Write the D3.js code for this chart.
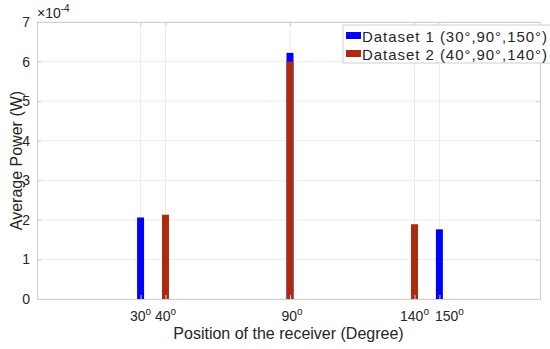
<!DOCTYPE html>
<html>
<head>
<meta charset="utf-8">
<script src="https://cdn.jsdelivr.net/npm/d3@7"></script>
<style>
  body { margin: 0; background: #fff; }
  text { font-family: "Liberation Sans", Arial, Helvetica, sans-serif; }
</style>
</head>
<body>
<div id="chart-area"></div>
<script>
// Data
// ****
const tickPositions = [30, 40, 90, 140, 150]
const tickLabelShift = [0, 0, 2, 0, 10]   // px nudge of the labels, as in the original
const ds1Positions = [30, 90, 150]
const ds1Values = [2.06, 6.22, 1.76]      // x 10^-4 W
const ds2Positions = [40, 90, 140]
const ds2Values = [2.13, 6.0, 1.89]       // x 10^-4 W
const yTicks = [0, 1, 2, 3, 4, 5, 6, 7]
const seriesNames = ["Dataset 1 (30°,90°,150°)", "Dataset 2 (40°,90°,140°)"]
const seriesColors = ["#0000ff", "#ad2a0f"]

// Config
// ******
const W = 550, H = 349
const margin = {top: 22, right: 10, bottom: 50, left: 37}
const width = 540 - margin.left, height = 299 - margin.top
const axisColor = "#cfcfcf", gridColor = "#ececec", textColor = "#262626"
const barWidth = 2.8 // degrees

const svg = d3.select("#chart-area")
  .append("svg")
    .attr("width", W)
    .attr("height", H)

const g = svg.append("g")
  .attr("transform", "translate(" + margin.left + ", " + margin.top + ")")

const x = d3.scaleLinear().domain([-11.6, 190.4]).range([0, width])
const y = d3.scaleLinear().domain([0, 7]).range([height, 0])

// Grid
g.append("g").selectAll("line").data(yTicks).enter()
  .append("line")
  .attr("x1", 0).attr("x2", width)
  .attr("y1", d => y(d)).attr("y2", d => y(d))
  .style("stroke", gridColor)
g.append("g").selectAll("line").data(tickPositions).enter()
  .append("line")
  .attr("x1", d => x(d)).attr("x2", d => x(d))
  .attr("y1", 0).attr("y2", height)
  .style("stroke", gridColor)

// Bars
function drawBars(pos, vals, color) {
  g.append("g").selectAll("rect").data(pos).enter()
    .append("rect")
    .attr("x", d => x(d - barWidth / 2))
    .attr("width", d => x(d + barWidth / 2) - x(d - barWidth / 2))
    .attr("y", (d, i) => y(vals[i]))
    .attr("height", (d, i) => y(0) - y(vals[i]))
    .attr("fill", color)
}
drawBars(ds1Positions, ds1Values, seriesColors[0])
drawBars(ds2Positions, ds2Values, seriesColors[1])

// Axes
const leftAxis = d3.axisLeft(y).tickValues(yTicks).tickSize(-4).tickPadding(7).tickFormat(d3.format("d"))
g.append("g").attr("class", "left axis").call(leftAxis)
g.append("g").attr("class", "right axis")
  .attr("transform", "translate(" + width + ",0)")
  .call(d3.axisRight(y).tickValues(yTicks).tickSize(-4).tickFormat(""))
const bottomAxis = d3.axisBottom(x).tickValues(tickPositions).tickSize(-4).tickFormat("")
g.append("g").attr("class", "bottom axis")
  .attr("transform", "translate(0, " + height + ")")
  .call(bottomAxis)
g.append("g").attr("class", "top axis")
  .call(d3.axisTop(x).tickValues(tickPositions).tickSize(-4).tickFormat(""))

g.selectAll(".axis path").style("stroke", axisColor)
g.selectAll(".axis line").style("stroke", axisColor)
g.selectAll(".left.axis text")
  .style("fill", textColor)
  .attr("font-family", null)
  .attr("font-size", "14px")

// x tick labels with superscript o
const xl = g.append("g").selectAll("text").data(tickPositions).enter()
  .append("text")
  .attr("x", (d, i) => x(d) + tickLabelShift[i])
  .attr("y", height + 22)
  .attr("text-anchor", "middle")
  .attr("font-size", "14px")
  .style("fill", textColor)
xl.append("tspan").text(d => d)
xl.append("tspan").attr("dy", -6).attr("font-size", "10px").text("o")

// Exponent label
const ex = g.append("text")
  .attr("x", 0).attr("y", -4)
  .attr("font-size", "14px")
  .style("fill", textColor)
ex.append("tspan").text("×10")
ex.append("tspan").attr("dy", -6).attr("font-size", "10px").text("-4")

// Axis titles
g.append("text")
  .attr("x", width / 2)
  .attr("y", height + 40)
  .attr("text-anchor", "middle")
  .attr("font-size", "16px")
  .style("fill", textColor)
  .text("Position of the receiver (Degree)")
g.append("text")
  .attr("x", -(height / 2))
  .attr("y", -15)
  .attr("text-anchor", "middle")
  .attr("transform", "rotate(-90)")
  .attr("font-size", "16px")
  .style("fill", textColor)
  .text("Average Power (W)")

// Legend
const lg = svg.append("g").attr("transform", "translate(343, 25)")
lg.append("rect")
  .attr("width", 215).attr("height", 38)
  .attr("fill", "#fff").attr("stroke", axisColor)
seriesNames.forEach((name, i) => {
  lg.append("rect")
    .attr("x", 3).attr("y", 7 + i * 18)
    .attr("width", 15).attr("height", 7)
    .attr("fill", seriesColors[i])
  lg.append("text")
    .attr("x", 19).attr("y", 17 + i * 18)
    .attr("font-size", "15px")
    .attr("textLength", 185)
    .attr("lengthAdjust", "spacing")
    .style("fill", textColor)
    .text(name)
})
</script>
</body>
</html>
